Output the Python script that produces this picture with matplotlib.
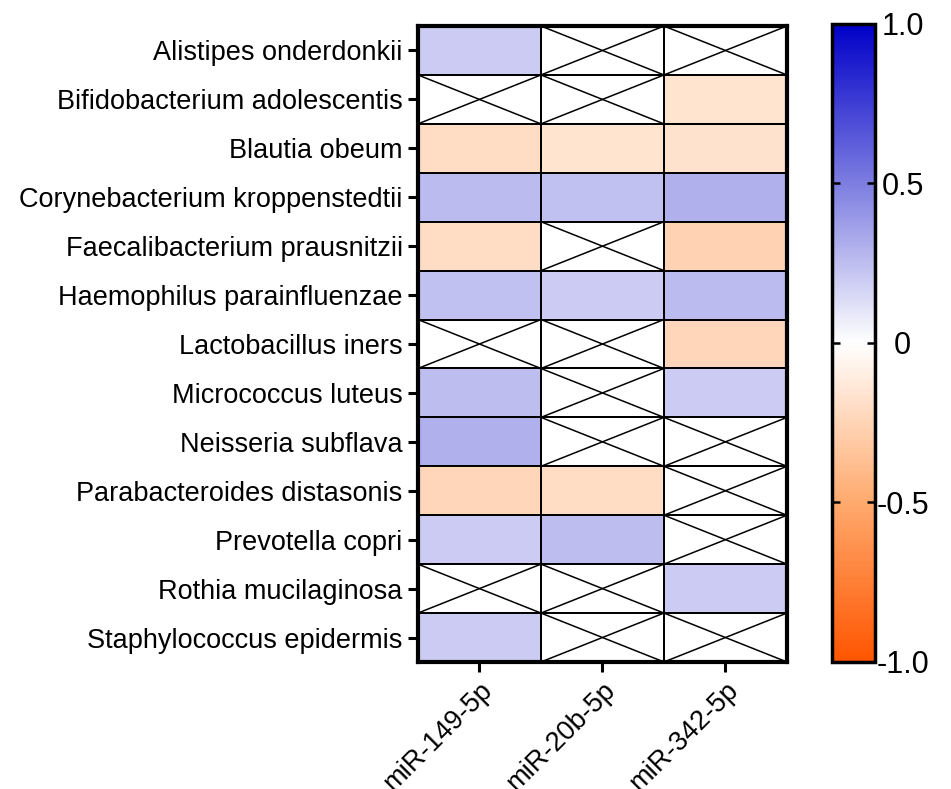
import numpy as np
import matplotlib
matplotlib.use("Agg")
import matplotlib.pyplot as plt
from matplotlib.colors import LinearSegmentedColormap

species = [
    "Alistipes onderdonkii",
    "Bifidobacterium adolescentis",
    "Blautia obeum",
    "Corynebacterium kroppenstedtii",
    "Faecalibacterium prausnitzii",
    "Haemophilus parainfluenzae",
    "Lactobacillus iners",
    "Micrococcus luteus",
    "Neisseria subflava",
    "Parabacteroides distasonis",
    "Prevotella copri",
    "Rothia mucilaginosa",
    "Staphylococcus epidermis",
]
mirnas = ["miR-149-5p", "miR-20b-5p", "miR-342-5p"]

nan = np.nan
miR_149_5p = [0.20, nan, -0.20, 0.26, -0.20, 0.24, nan, 0.25, 0.30, -0.24, 0.20, nan, 0.20]
miR_20b_5p = [nan, nan, -0.16, 0.24, nan, 0.20, nan, nan, nan, -0.20, 0.25, nan, nan]
miR_342_5p = [nan, -0.16, -0.17, 0.30, -0.26, 0.26, -0.24, 0.20, nan, nan, nan, 0.20, nan]

cbar_ticks = [-1.0, -0.5, 0.0, 0.5, 1.0]
cbar_ticklabels = ["-1.0", "-0.5", "0", "0.5", "1.0"]

plt.rcParams['font.family'] = ['Liberation Sans', 'DejaVu Sans']

data = np.array([miR_149_5p, miR_20b_5p, miR_342_5p]).T
masked = np.ma.masked_invalid(data)

cmap = LinearSegmentedColormap.from_list(
    "ob",
    [(0.0, (1.0, 85/255, 0.0)),
     (0.25, (1.0, 170/255, 110/255)),
     (0.5, (1.0, 1.0, 1.0)),
     (0.75, (125/255, 125/255, 225/255)),
     (1.0, (0.0, 0.0, 200/255))])
cmap.set_bad("white")

fig = plt.figure(figsize=(9.51, 7.89), dpi=100)
ax = fig.add_axes([0.4395, 0.161, 0.388, 0.806])

nrows, ncols = data.shape
mesh = ax.pcolormesh(np.arange(ncols + 1), np.arange(nrows + 1), masked,
                     cmap=cmap, vmin=-1, vmax=1, edgecolors="black", linewidth=1.1)

# crosses in missing cells
for r in range(nrows):
    for c in range(ncols):
        if np.isnan(data[r, c]):
            ax.plot([c, c + 1], [r, r + 1], color="black", lw=1.1)
            ax.plot([c, c + 1], [r + 1, r], color="black", lw=1.1)

ax.set_xlim(0, ncols)
ax.set_ylim(nrows, 0)
ax.set_yticks(np.arange(nrows) + 0.5)
ax.set_yticklabels(species, fontsize=19.5)
ax.set_xticks(np.arange(ncols) + 0.5)
ax.set_xticklabels(mirnas, fontsize=19.5, rotation=45, ha="right", va="top",
                   rotation_mode="anchor")
ax.tick_params(axis="both", direction="out", length=7, width=2.2, pad=4)
for s in ax.spines.values():
    s.set_linewidth(3)

cax = fig.add_axes([0.875, 0.161, 0.045, 0.809])
cb = fig.colorbar(mesh, cax=cax)
cb.set_ticks(cbar_ticks)
cax.set_yticklabels(cbar_ticklabels, ha="center")
cb.outline.set_linewidth(2.5)
cax.tick_params(axis="y", direction="in", left=True, right=True, length=6,
                width=1.8, labelsize=22, pad=20)

fig.savefig("out.png", dpi=100)
